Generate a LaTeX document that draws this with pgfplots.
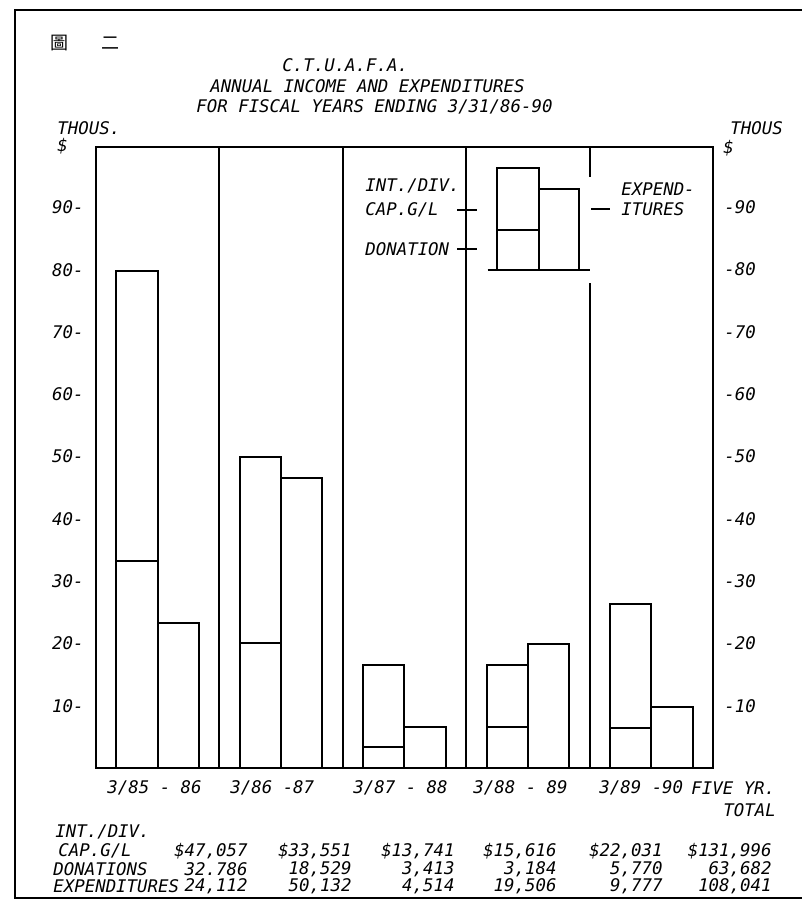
\documentclass[border=0pt]{standalone}
\usepackage{fontspec}
\setmainfont{DejaVu Sans Mono}
\newfontfamily\cjk{Noto Sans CJK TC}
\usepackage{pgfplots}
\pgfplotsset{compat=1.18}
\newcommand\tf{\itshape\fontsize{8.7}{10}\selectfont}

\begin{document}
\begin{tikzpicture}
\begin{axis}[
  at={(0,0)}, anchor=south west,
  scale only axis, width=308.5pt, height=310.5pt,
  xmin=0, xmax=5, ymin=0, ymax=99.7,
  xtick=\empty,
  ytick={10,20,...,90},
  major tick length=0pt,
  /pgf/number format/assume math mode=true,
  yticklabel={\pgfmathprintnumber{\tick}-},
  yticklabel style={font=\tf, anchor=east, inner sep=0pt, xshift=-6pt},
  axis line style={line width=1pt},
]
% income bars: total (int./div. cap.g/l on top of donations)
\addplot[ybar, bar width=0.335, bar shift=0pt, fill=white, draw=black, line width=1pt]
  coordinates {(0.3325,79.8)(1.3325,49.9)(2.3325,16.6)(3.3325,16.6)(4.3325,26.4)};
% donations (lower part)
\addplot[ybar, bar width=0.335, bar shift=0pt, fill=white, draw=black, line width=1pt]
  coordinates {(0.3325,33.3)(1.3325,20.0)(2.3325,3.3)(3.3325,6.6)(4.3325,6.5)};
% expenditures
\addplot[ybar, bar width=0.335, bar shift=0pt, fill=white, draw=black, line width=1pt]
  coordinates {(0.6675,23.3)(1.6675,46.5)(2.6675,6.6)(3.6675,19.9)(4.6675,9.8)};

% legend sketch bars
\addplot[black, line width=1pt] coordinates {(3.251,80)(3.251,96.3)(3.589,96.3)(3.589,80)};
\addplot[black, line width=1pt] coordinates {(3.251,86.4)(3.589,86.4)};
\addplot[black, line width=1pt] coordinates {(3.589,93.0)(3.915,93.0)(3.915,80)};
\addplot[black, line width=1pt] coordinates {(3.173,80)(4.002,80)};

% section dividers
\draw[line width=1pt] (axis cs:1,0) -- (axis cs:1,99.7);
\draw[line width=1pt] (axis cs:2,0) -- (axis cs:2,99.7);
\draw[line width=1pt] (axis cs:3,0) -- (axis cs:3,99.7);
\draw[line width=1pt] (axis cs:4,0) -- (axis cs:4,77.8);
\draw[line width=1pt] (axis cs:4,94.9) -- (axis cs:4,99.7);
\end{axis}

\begin{scope}[x=0.5pt, y=-0.5pt]
\begin{scope}[shift={(-96,-768)}, every node/.style={font=\tf, inner sep=0pt}]
% frame
\draw[line width=0.9pt] (802,10) -- (15,10) -- (15,898) -- (802,898);

\node[font=\cjk\fontsize{9}{10}\selectfont] at (60,43) {圖};
\node[font=\cjk\fontsize{9}{10}\selectfont] at (110,43) {二};

\node[anchor=west] at (282,65) {C.T.U.A.F.A.};
\node[anchor=west] at (210,86) {ANNUAL INCOME AND EXPENDITURES};
\node[anchor=west] at (196,107) {FOR FISCAL YEARS ENDING 3/31/86-90};

\node[anchor=west] at (57,128) {THOUS.};
\node[anchor=west] at (57,146) {\$};
\node[anchor=west] at (730,128) {THOUS};
\node[anchor=west] at (723,148) {\$};

% right tick labels
\foreach \v in {10,20,...,90}
  \node[anchor=west] at (724,{768-6.23*\v}) {-\v};

% legend text
\node[anchor=west] at (365,186) {INT./DIV.};
\node[anchor=west] at (365,210) {CAP.G/L};
\node[anchor=west] at (365,249) {DONATION};
\draw[line width=0.8pt] (457,210) -- (477,210);
\draw[line width=0.8pt] (457,249) -- (477,249);
\draw[line width=0.8pt] (591,209) -- (610,209);
\node[anchor=west] at (621,189) {EXPEND-};
\node[anchor=west] at (621,209) {ITURES};

% category labels
\node[anchor=west] at (107,788) {3/85 - 86};
\node[anchor=west] at (230,788) {3/86 -87};
\node[anchor=west] at (353,788) {3/87 - 88};
\node[anchor=west] at (473,788) {3/88 - 89};
\node[anchor=west] at (599,788) {3/89 -90};
\node[anchor=west] at (691,788) {FIVE YR.};
\node[anchor=west] at (723,810) {TOTAL};

% table
\node[anchor=west] at (55,832) {INT./DIV.};
\node[anchor=west] at (58,851) {CAP.G/L};
\node[anchor=west] at (53,869) {DONATIONS};
\node[anchor=west] at (53,886) {EXPENDITURES};
\node[anchor=east] at (248,851) {\$47,057};
\node[anchor=east] at (352,851) {\$33,551};
\node[anchor=east] at (455,851) {\$13,741};
\node[anchor=east] at (557,851) {\$15,616};
\node[anchor=east] at (663,851) {\$22,031};
\node[anchor=east] at (772,851) {\$131,996};
\node[anchor=east] at (248,869) {32.786};
\node[anchor=east] at (352,869) {18,529};
\node[anchor=east] at (455,869) {3,413};
\node[anchor=east] at (557,869) {3,184};
\node[anchor=east] at (663,869) {5,770};
\node[anchor=east] at (772,869) {63,682};
\node[anchor=east] at (248,886) {24,112};
\node[anchor=east] at (352,886) {50,132};
\node[anchor=east] at (455,886) {4,514};
\node[anchor=east] at (557,886) {19,506};
\node[anchor=east] at (663,886) {9,777};
\node[anchor=east] at (772,886) {108,041};

\pgfresetboundingbox
\path[use as bounding box] (0,0) rectangle (802,902);
\end{scope}
\end{scope}
\end{tikzpicture}
\end{document}
